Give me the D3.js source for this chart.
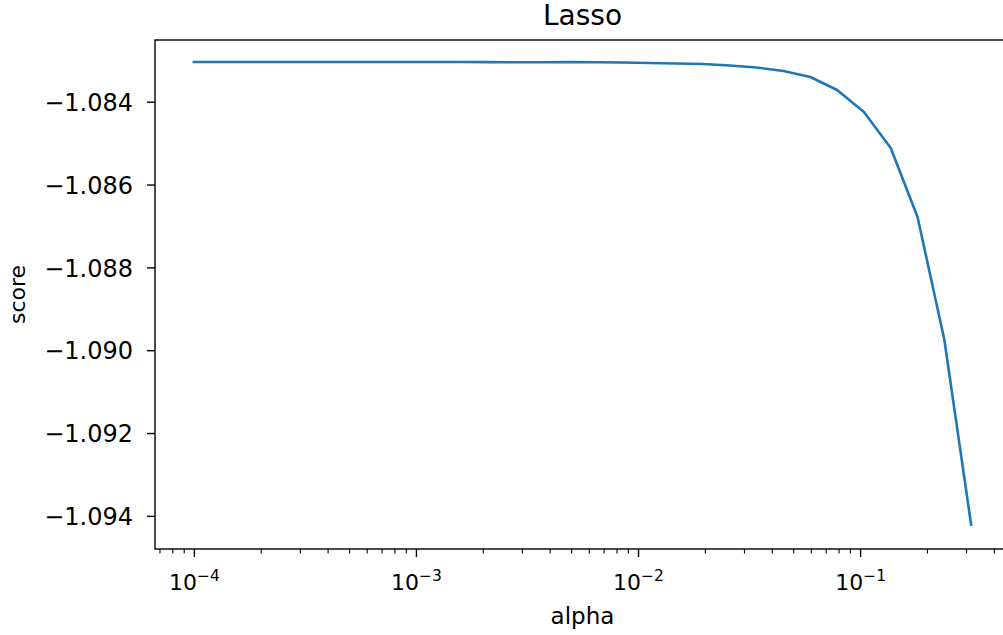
<!DOCTYPE html>
<html>
<head>
<meta charset="utf-8">
<script src="https://cdn.jsdelivr.net/npm/d3@7"></script>
<style>
  body { margin: 0; background: #fff; }
  text { font-family: "DejaVu Sans", sans-serif; fill: #000; }
</style>
</head>
<body>
<div id="app"></div>
<script>
// alpha values (30 points on a log grid) and cross-validated score
const alphas = [
  0.0001, 0.00013203, 0.00017433, 0.00023017, 0.00030392, 0.00040128,
  0.00052983, 0.00069956, 0.00092367, 0.0012196, 0.0016103, 0.0021262,
  0.0028073, 0.0037067, 0.0048942, 0.006462, 0.0085322, 0.011266,
  0.014874, 0.01964, 0.025931, 0.034238, 0.045207, 0.059689,
  0.078811, 0.10406, 0.13739, 0.18141, 0.23952, 0.31623
]
const scores = [
  -1.083042, -1.083042, -1.083042, -1.083042, -1.083042, -1.083042,
  -1.083042, -1.083042, -1.083042, -1.083042, -1.083042, -1.083045,
  -1.083046, -1.083046, -1.083045, -1.083048, -1.083054, -1.083066,
  -1.083078, -1.08309, -1.083127, -1.083175, -1.083259, -1.083404,
  -1.083718, -1.084248, -1.085117, -1.086782, -1.089749, -1.094213
]
const yTicks = [-1.084, -1.086, -1.088, -1.090, -1.092, -1.094]
const xTicks = [1e-4, 1e-3, 1e-2, 1e-1]
const xTickExp = ['−4', '−3', '−2', '−1']

const W = 1003, H = 635
const margin = { left: 155, top: 40, right: 1010, bottom: 549 }

const svg = d3.select('#app').append('svg')
  .attr('width', W).attr('height', H)
  .style('display', 'block')

const x = d3.scaleLog()
  .domain([Math.pow(10, -4.175), Math.pow(10, -0.325)])
  .range([margin.left, margin.right])

const y = d3.scaleLinear()
  .domain([-1.0948, -1.08251])
  .range([margin.bottom, margin.top])

// minor ticks on x
const minor = []
for (let e = -5; e <= 0; e++) {
  for (let m = 2; m <= 9; m++) minor.push(m * Math.pow(10, e))
}
const minorVis = minor.filter(v => x(v) >= margin.left && x(v) <= W + 10)

svg.append('g')
  .attr('transform', `translate(0,${margin.bottom})`)
  .call(d3.axisBottom(x).tickValues(minorVis).tickSize(4.5).tickFormat(''))
  .call(g => g.select('.domain').remove())
  .call(g => g.selectAll('line').attr('stroke', '#000').attr('stroke-width', 1.1))

const xAxis = svg.append('g')
  .attr('transform', `translate(0,${margin.bottom})`)
  .call(d3.axisBottom(x).tickValues(xTicks).tickSize(8).tickFormat(''))
xAxis.select('.domain').remove()
xAxis.selectAll('line').attr('stroke', '#000').attr('stroke-width', 1.4)
xAxis.selectAll('.tick').each(function (d, i) {
  const t = d3.select(this).append('text')
    .attr('y', 41)
    .attr('text-anchor', 'middle')
    .style('font-size', '22px')
  t.append('tspan').text('10')
  t.append('tspan').attr('dy', -9).style('font-size', '15.5px').text(xTickExp[i])
})

const yAxis = svg.append('g')
  .attr('transform', `translate(${margin.left},0)`)
  .call(d3.axisLeft(y).tickValues(yTicks).tickSize(8).tickPadding(14)
    .tickFormat(d => d3.format('.3f')(d).replace('-', '−')))
yAxis.select('.domain').remove()
yAxis.selectAll('line').attr('stroke', '#000').attr('stroke-width', 1.4)
yAxis.selectAll('text').style('font-size', '24px').attr('dy', '0.36em')

// frame
svg.append('rect')
  .attr('x', margin.left).attr('y', margin.top)
  .attr('width', margin.right - margin.left)
  .attr('height', margin.bottom - margin.top)
  .attr('fill', 'none').attr('stroke', '#000').attr('stroke-width', 1.4)

// line
svg.append('path')
  .datum(alphas.map((a, i) => [a, scores[i]]))
  .attr('fill', 'none')
  .attr('stroke', '#1f77b4')
  .attr('stroke-width', 2.6)
  .attr('stroke-linejoin', 'round')
  .attr('stroke-linecap', 'square')
  .attr('d', d3.line().x(d => x(d[0])).y(d => y(d[1])))

const cx = (margin.left + margin.right) / 2
svg.append('text')
  .attr('x', cx).attr('y', 25)
  .attr('text-anchor', 'middle')
  .style('font-size', '28px')
  .text('Lasso')

svg.append('text')
  .attr('x', cx).attr('y', 624)
  .attr('text-anchor', 'middle')
  .style('font-size', '23px')
  .text('alpha')

svg.append('text')
  .attr('transform', `translate(25,${(margin.top + margin.bottom) / 2}) rotate(-90)`)
  .attr('text-anchor', 'middle')
  .style('font-size', '22px')
  .text('score')
</script>
</body>
</html>
